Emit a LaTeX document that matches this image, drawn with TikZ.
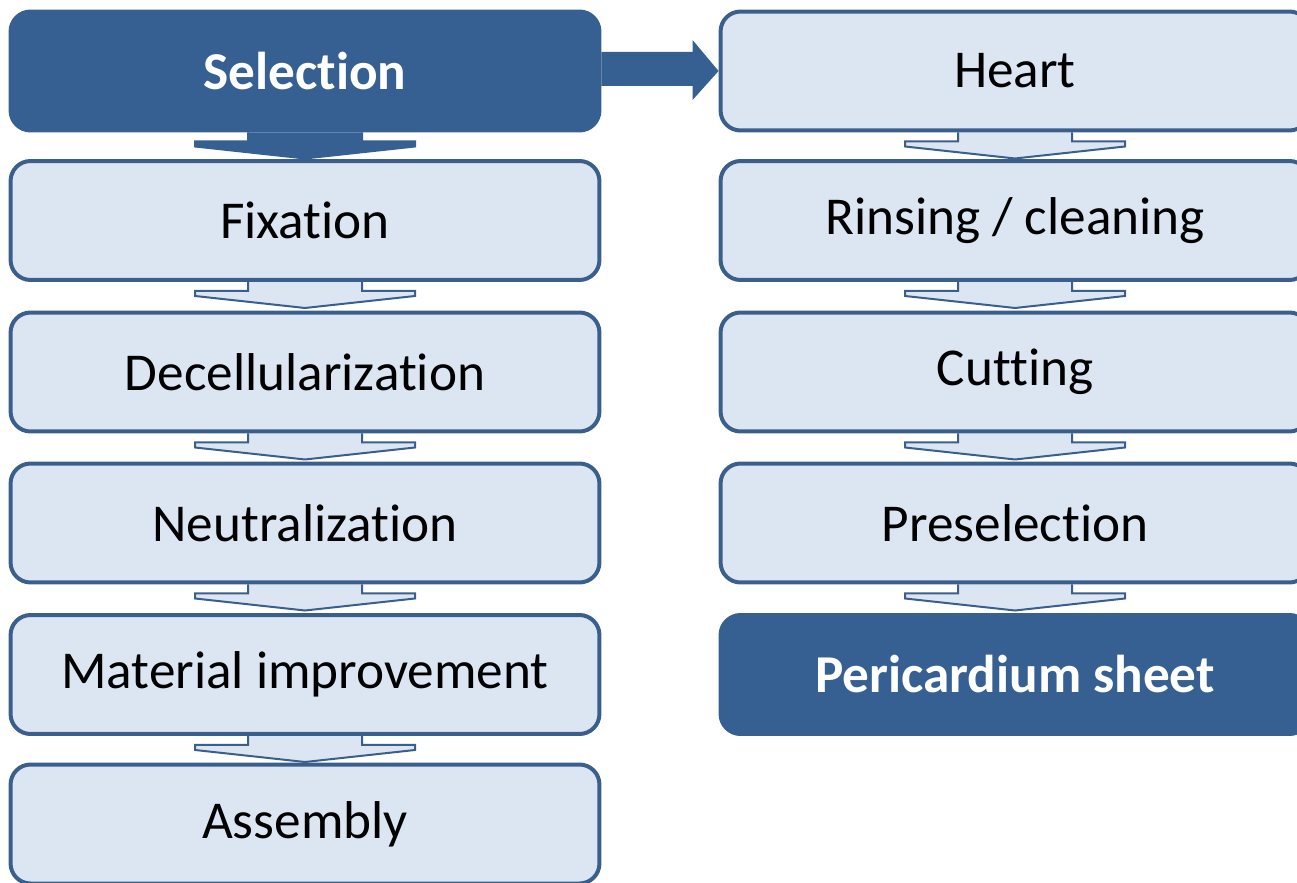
\documentclass[tikz,border=0pt]{standalone}
\usepackage{fontspec}
\setmainfont{Carlito}[Ligatures=NoCommon, RawFeature={-liga;-clig;-dlig}]
\usetikzlibrary{calc,backgrounds}
\definecolor{darkblue}{HTML}{376092}
\definecolor{edgeblue}{HTML}{3A5F8D}
\definecolor{paleblue}{HTML}{DCE6F2}
\tikzset{
  stepbox/.style={draw=edgeblue, line width=0.08cm, fill=paleblue, rounded corners=0.4cm,
    minimum width=11.78cm, minimum height=2.38cm, inner sep=0pt,
    font=\fontsize{30.3}{36}\selectfont},
  endbox/.style={stepbox, draw=darkblue, fill=darkblue, text=white, font=\fontsize{30.3}{36}\selectfont\bfseries}
}
\def\blockarrow[#1](#2){\draw[#1] ($(#2.south)+(-57,0)$) -- ++(0,9) -- ++(-53,0) -- ++(0,5)
  -- ($(#2.south)+(0,26)$) -- ($(#2.south)+(110,14)$) -- ++(0,-5) -- ++(-53,0) -- ++(0,-9);}

\begin{document}
\begin{tikzpicture}[x=0.02cm, y=-0.02cm]
			%%%%% START %%%%%
			\useasboundingbox (0,0) rectangle (1297,882);
			
			% left column
			\node[endbox] (sel) at (305,71) {Selection};
			\node[stepbox] (fix) at (305,220.5) {Fixation};
			\node[stepbox] (decell) at (305,372) {Decellularization};
			\node[stepbox] (neutr) at (305,523) {Neutralization};
			\node[stepbox] (matimp) at (305,674.5) {Material improvement};
			\node[stepbox] (assem) at (305,824) {Assembly};
			
			% right column
			\node[stepbox] (heart) at (1015,71) {Heart};
			\node[stepbox] (rinse) at (1015,220.5) {Rinsing / cleaning};
			\node[stepbox] (cut) at (1015,372) {Cutting};
			\node[stepbox] (presel) at (1015,523) {Preselection};
			\node[endbox] (sheet) at (1015,674.5) {Pericardium sheet};
			
			\begin{pgfonlayer}{background}
			\blockarrow[fill=darkblue, draw=darkblue, line width=0.04cm](sel)
			\blockarrow[fill=paleblue, draw=edgeblue, line width=0.04cm](fix)
			\blockarrow[fill=paleblue, draw=edgeblue, line width=0.04cm](decell)
			\blockarrow[fill=paleblue, draw=edgeblue, line width=0.04cm](neutr)
			\blockarrow[fill=paleblue, draw=edgeblue, line width=0.04cm](matimp)
			
			\blockarrow[fill=paleblue, draw=edgeblue, line width=0.04cm](heart)
			\blockarrow[fill=paleblue, draw=edgeblue, line width=0.04cm](rinse)
			\blockarrow[fill=paleblue, draw=edgeblue, line width=0.04cm](cut)
			\blockarrow[fill=paleblue, draw=edgeblue, line width=0.04cm](presel)
			\end{pgfonlayer}
			
			\fill[darkblue] ($(sel.east)+(0,-19)$) -- ($(heart.west)+(-26,-19)$) -- ++(0,-12)
			  -- (heart.west) -- ($(heart.west)+(-26,29)$) -- ++(0,-14) -- ($(sel.east)+(0,15)$) -- cycle;
			
			%%%%% END %%%%%
		\end{tikzpicture}
\end{document}
